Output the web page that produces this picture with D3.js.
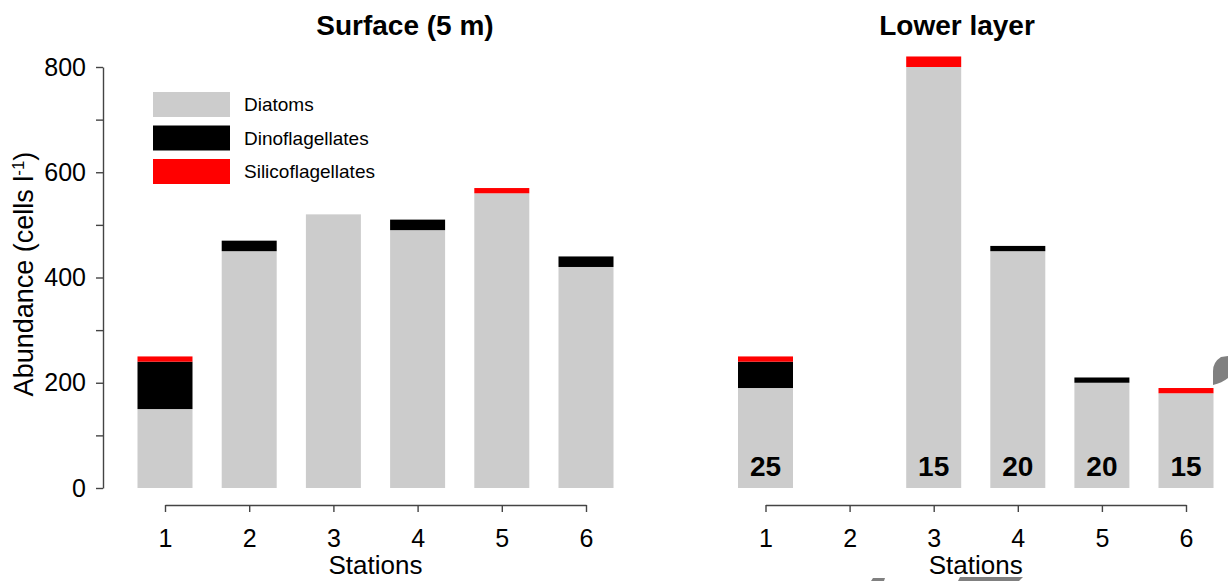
<!DOCTYPE html>
<html>
<head>
<meta charset="utf-8">
<script src="https://cdn.jsdelivr.net/npm/d3@7"></script>
<style>
  html, body { margin: 0; padding: 0; background: #fff; }
  svg { display: block; font-family: "Liberation Sans", Arial, sans-serif; }
</style>
</head>
<body>
<svg id="chart" width="1228" height="581"></svg>
<script>
// Phytoplankton abundance (cells l-1) per station, stacked by group
const stations = ["1", "2", "3", "4", "5", "6"];
const groups = ["Diatoms", "Dinoflagellates", "Silicoflagellates"];
const groupColors = ["#cccccc", "#000000", "#ff0000"];

const surfaceDiatoms = [150, 450, 520, 490, 560, 420];
const surfaceDinoflagellates = [90, 20, 0, 20, 0, 20];
const surfaceSilicoflagellates = [10, 0, 0, 0, 10, 0];

const lowerDiatoms = [190, 0, 800, 450, 200, 180];
const lowerDinoflagellates = [50, 0, 0, 10, 10, 0];
const lowerSilicoflagellates = [10, 0, 20, 0, 0, 10];
const lowerDepthLabels = ["25", "", "15", "20", "20", "15"];

const yTicks = [0, 100, 200, 300, 400, 500, 600, 700, 800];

const svg = d3.select("#chart");
const axisColor = "#444";

const y = d3.scaleLinear().domain([0, 800]).range([488, 67]);
const barWidth = 55;

function rows(d, n, s) {
  return stations.map((st, i) => ({
    station: st,
    Diatoms: d[i], Dinoflagellates: n[i], Silicoflagellates: s[i]
  }));
}

const stack = d3.stack().keys(groups);

function panel(xRange, data, title, titleX, labels) {
  const x = d3.scalePoint().domain(stations).range(xRange);
  const g = svg.append("g");
  const series = stack(data);

  g.selectAll("g.layer")
    .data(series)
    .join("g")
    .attr("class", "layer")
    .attr("fill", (d, i) => groupColors[i])
    .selectAll("rect")
    .data(d => d.filter(p => p[1] > p[0]))
    .join("rect")
    .attr("x", p => x(p.data.station) - barWidth / 2)
    .attr("width", barWidth)
    .attr("y", p => y(p[1]))
    .attr("height", p => y(p[0]) - y(p[1]));

  // station axis
  const xAxis = g.append("g")
    .attr("transform", "translate(0,505)")
    .call(d3.axisBottom(x).tickSize(7).tickSizeOuter(0).tickPadding(17));
  xAxis.select(".domain").attr("stroke", axisColor).attr("stroke-width", 1.4);
  xAxis.selectAll(".tick line").attr("stroke", axisColor).attr("stroke-width", 1.4);
  xAxis.selectAll(".tick text")
    .attr("fill", "#000")
    .style("font-size", "25px")
    .style("font-family", "'Liberation Sans', Arial, sans-serif");

  g.append("text")
    .attr("x", (xRange[0] + xRange[1]) / 2)
    .attr("y", 574)
    .attr("text-anchor", "middle")
    .style("font-size", "26px")
    .text("Stations");

  g.append("text")
    .attr("x", titleX)
    .attr("y", 35)
    .attr("text-anchor", "middle")
    .style("font-size", "28px")
    .style("font-weight", "bold")
    .text(title);

  if (labels) {
    g.selectAll("text.depth")
      .data(stations.map((st, i) => ({ st, t: labels[i] })).filter(d => d.t))
      .join("text")
      .attr("class", "depth")
      .attr("x", d => x(d.st))
      .attr("y", 476)
      .attr("text-anchor", "middle")
      .style("font-size", "28px")
      .style("font-weight", "bold")
      .text(d => d.t);
  }
  return x;
}

panel([165, 586], rows(surfaceDiatoms, surfaceDinoflagellates, surfaceSilicoflagellates), "Surface (5 m)", 405, null);
panel([765.5, 1186], rows(lowerDiatoms, lowerDinoflagellates, lowerSilicoflagellates), "Lower layer", 957, lowerDepthLabels);

// abundance axis
const yAxis = svg.append("g")
  .attr("transform", "translate(103,0)")
  .call(d3.axisLeft(y).tickValues(yTicks).tickSize(7).tickSizeOuter(0).tickPadding(10)
    .tickFormat(v => v % 200 === 0 ? String(v) : ""));
yAxis.select(".domain").attr("stroke", axisColor).attr("stroke-width", 1.4);
yAxis.selectAll(".tick line").attr("stroke", axisColor).attr("stroke-width", 1.4);
yAxis.selectAll(".tick text")
  .attr("fill", "#000")
  .style("font-size", "25px")
  .style("font-family", "'Liberation Sans', Arial, sans-serif");

const yLabel = svg.append("text")
  .attr("transform", "translate(33,274) rotate(-90)")
  .attr("text-anchor", "middle")
  .style("font-size", "27px");
yLabel.append("tspan").text("Abundance (cells l");
yLabel.append("tspan").attr("baseline-shift", "super").style("font-size", "17px").text("-1");
yLabel.append("tspan").text(")");

// legend
const legend = svg.append("g");
groups.forEach((name, i) => {
  const top = 92 + i * 33.5;
  legend.append("rect")
    .attr("x", 153).attr("y", top)
    .attr("width", 77).attr("height", 25)
    .attr("fill", groupColors[i]);
  legend.append("text")
    .attr("x", 244).attr("y", top + 12.5)
    .attr("dominant-baseline", "central")
    .style("font-size", "19px")
    .text(name);
});

// fragments of neighbouring figure panels at the edges
const frag = svg.append("g").attr("fill", "#808080");
frag.append("path").attr("d", "M1228,356 L1221,357 Q1213,362 1213,371 L1213,385 Q1222,383 1228,378 Z");
frag.append("path").attr("d", "M871,581 L873,578 L885,578 L884,581 Z");
frag.append("path").attr("d", "M958,581 L960,577 L1023,577 L1019,581 Z");
</script>
</body>
</html>
